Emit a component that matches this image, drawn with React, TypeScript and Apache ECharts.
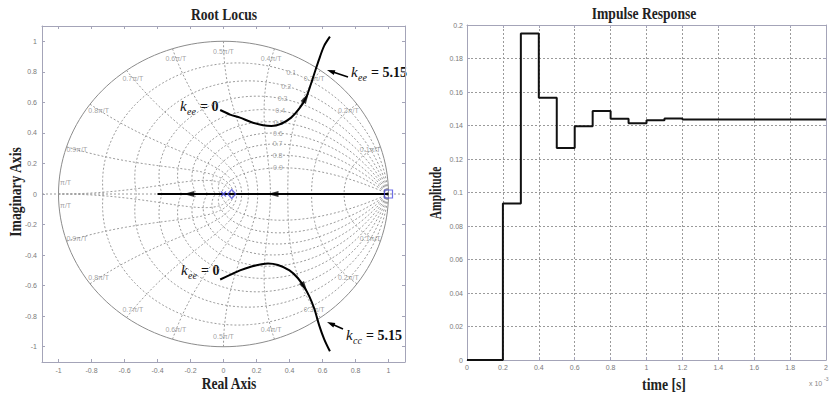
import React, { useEffect, useRef } from 'react';
import * as echarts from 'echarts';

// ---------- data ----------
const zetaValues = [0.1, 0.2, 0.3, 0.4, 0.5, 0.6, 0.7, 0.8, 0.9];
const wnFractions = [0.1, 0.2, 0.3, 0.4, 0.5, 0.6, 0.7, 0.8, 0.9, 1.0];
const wnLabels = ['0.1π/T', '0.2π/T', '0.3π/T', '0.4π/T', '0.5π/T', '0.6π/T', '0.7π/T', '0.8π/T', '0.9π/T', 'π/T'];

const upperLocusX = [-0.02, 0.04, 0.10, 0.17, 0.24, 0.29, 0.35, 0.41, 0.46, 0.50, 0.53, 0.56, 0.585, 0.61, 0.645];
const upperLocusY = [0.55, 0.52, 0.50, 0.47, 0.45, 0.445, 0.46, 0.50, 0.56, 0.63, 0.72, 0.82, 0.90, 0.97, 1.03];
const lowerLocusX = [-0.02, 0.04, 0.10, 0.17, 0.23, 0.27, 0.33, 0.40, 0.45, 0.49, 0.52, 0.55, 0.58, 0.61, 0.645];
const lowerLocusY = [-0.56, -0.53, -0.50, -0.475, -0.46, -0.455, -0.465, -0.50, -0.55, -0.61, -0.67, -0.75, -0.86, -0.95, -1.03];
const realLocusX = [1.0, -0.4];
const realArrowX = [0.3, -0.21];
const poleSquareX = 1.0;
const zeroDiamondX = 0.05;
const poleCrossX = 0.0;

const impulseT = [0, 0.1, 0.2, 0.3, 0.4, 0.5, 0.6, 0.7, 0.8, 0.9, 1.0, 1.1, 1.2, 1.3, 1.4, 1.5, 1.6, 1.7, 1.8, 1.9, 2.0];
const impulseAmp = [0, 0, 0.0935, 0.195, 0.1565, 0.1265, 0.1395, 0.1487, 0.1440, 0.1413, 0.1432, 0.1442, 0.1436, 0.1436, 0.1436, 0.1436, 0.1436, 0.1436, 0.1436, 0.1436, 0.1436];

// ---------- styles ----------
const serif = '"Liberation Serif", "Times New Roman", serif';
const sans = '"Liberation Sans", Arial, sans-serif';
const boxColor = '#a4a4b8';
const gridColor = '#9a9a9a';
const tickLabelColor = '#7a7a7a';
const N = 80;

function zetaCurve(z: number, sign: number) {
  const m = z / Math.sqrt(1 - z * z);
  const pts: number[][] = [];
  for (let i = 0; i <= N; i++) {
    const th = (Math.PI * i) / N;
    const r = Math.exp(-m * th);
    pts.push([r * Math.cos(th), sign * r * Math.sin(th)]);
  }
  return pts;
}
function wnCurve(f: number, sign: number) {
  const w = f * Math.PI;
  const pts: number[][] = [];
  for (let i = 0; i <= N; i++) {
    const zt = i / N;
    const r = Math.exp(-zt * w);
    const th = w * Math.sqrt(1 - zt * zt);
    pts.push([r * Math.cos(th), sign * r * Math.sin(th)]);
  }
  return pts;
}

const leftFmt = (v: number) => {
  const r = Math.round(v * 10);
  if (Math.abs(v * 10 - r) > 1e-6 || r % 2 !== 0) return '';
  const n = r / 10;
  return n === 0 ? '0' : String(n);
};

function arrow(x1: number, y1: number, x2: number, y2: number) {
  const dx = x2 - x1, dy = y2 - y1;
  const len = Math.hypot(dx, dy);
  const ux = dx / len, uy = dy / len;
  const px = -uy, py = ux;
  const L = 8, Wd = 5;
  return [
    { type: 'line', shape: { x1, y1, x2: x2 - ux * 4, y2: y2 - uy * 4 }, style: { stroke: '#000', lineWidth: 1.6 } },
    {
      type: 'polygon',
      shape: { points: [[x2, y2], [x2 - ux * L + px * Wd / 2, y2 - uy * L + py * Wd / 2], [x2 - ux * L - px * Wd / 2, y2 - uy * L - py * Wd / 2]] },
      style: { fill: '#000' },
    },
  ];
}

function kLabel(x: number, y: number, sub: string, rest: string) {
  return [
    { type: 'text', x, y, style: { text: 'k', fontFamily: serif, fontStyle: 'italic', fontSize: 15, fill: '#111', align: 'left', verticalAlign: 'middle' } },
    { type: 'text', x: x + 7, y: y + 5, style: { text: sub, fontFamily: serif, fontStyle: 'italic', fontSize: 10, fill: '#111', align: 'left', verticalAlign: 'middle' } },
    { type: 'text', x: x + 20, y, style: { text: rest, fontFamily: serif, fontWeight: 'bold', fontSize: 14, fill: '#111', align: 'left', verticalAlign: 'middle' } },
  ];
}

export default function App() {
  const ref = useRef<HTMLDivElement>(null);
  useEffect(() => {
    if (!ref.current) return;
    const chart = echarts.init(ref.current, undefined, { renderer: 'svg' });

    const gridSeries: any[] = [];
    const dotted = { color: gridColor, width: 1, type: [2, 2] as any };
    zetaValues.forEach((z) => {
      [1, -1].forEach((s) => {
        gridSeries.push({ type: 'line', xAxisIndex: 0, yAxisIndex: 0, data: zetaCurve(z, s), symbol: 'none', lineStyle: dotted, silent: true, z: 1 });
      });
    });
    wnFractions.forEach((f) => {
      [1, -1].forEach((s) => {
        gridSeries.push({ type: 'line', xAxisIndex: 0, yAxisIndex: 0, data: wnCurve(f, s), symbol: 'none', lineStyle: dotted, silent: true, z: 1 });
      });
    });
    [1, -1].forEach((s) => {
      gridSeries.push({ type: 'line', xAxisIndex: 0, yAxisIndex: 0, data: zetaCurve(0, s), symbol: 'none', lineStyle: { color: '#8c8c8c', width: 1 }, silent: true, z: 1 });
    });
    gridSeries.push({ type: 'line', xAxisIndex: 0, yAxisIndex: 0, data: [[-1.1, 0], [1.1, 0]], symbol: 'none', lineStyle: dotted, silent: true, z: 1 });

    const labelSeries = {
      type: 'scatter', xAxisIndex: 0, yAxisIndex: 0, symbolSize: 1, silent: true, z: 2,
      itemStyle: { color: 'rgba(0,0,0,0)' },
      label: { show: true, position: 'inside', formatter: '{b}', fontSize: 7, fontFamily: sans, color: '#8a8a8a', textBorderWidth: 0 },
      data: [
        ...zetaValues.map((z) => {
          const w = 0.35 * Math.PI;
          const r = Math.exp(-z * w);
          const th = w * Math.sqrt(1 - z * z);
          return { name: String(z), value: [r * Math.cos(th), r * Math.sin(th)] };
        }),
        ...wnFractions.flatMap((f, i) => {
          const a = Math.min(f, 0.975) * Math.PI;
          const r = f >= 1 ? 0.96 : 0.935;
          return [
            { name: wnLabels[i], value: [r * Math.cos(a), r * Math.sin(a)] },
            { name: wnLabels[i], value: [r * Math.cos(a), -r * Math.sin(a)] },
          ];
        }),
      ],
    };

    const locus = (xs: number[], ys: number[]) => ({
      type: 'line', xAxisIndex: 0, yAxisIndex: 0, data: xs.map((x, i) => [x, ys[i]]), symbol: 'none', smooth: 0.3,
      lineStyle: { color: '#000', width: 2 }, silent: true, z: 5,
    });

    const axisLine = { show: true, onZero: false, lineStyle: { color: boxColor, width: 1 } };
    const axisTick = { show: true, inside: true, length: 3, lineStyle: { color: boxColor } };
    const tickLbl = { fontSize: 7, fontFamily: sans, color: tickLabelColor };

    chart.setOption({
      animation: false,
      backgroundColor: '#fff',
      grid: [
        { left: 42, top: 26, width: 363, height: 336 },
        { left: 467, top: 25, width: 363, height: 335 },
      ],
      xAxis: [
        { gridIndex: 0, type: 'value', min: -1.1, max: 1.1, splitNumber: 11, position: 'bottom', axisLine, axisTick, splitLine: { show: false },
          axisLabel: { ...tickLbl, margin: 5, formatter: leftFmt, showMinLabel: true, showMaxLabel: true } },
        { gridIndex: 0, type: 'value', min: -1.1, max: 1.1, splitNumber: 11, position: 'top', axisLine, axisTick, splitLine: { show: false }, axisLabel: { show: false } },
        { gridIndex: 1, type: 'value', min: 0, max: 2, interval: 0.2, position: 'bottom', axisLine, axisTick,
          splitLine: { show: true, lineStyle: dotted }, axisLabel: { ...tickLbl, margin: 4 } },
        { gridIndex: 1, type: 'value', min: 0, max: 2, interval: 0.2, position: 'top', axisLine, axisTick, splitLine: { show: false }, axisLabel: { show: false } },
      ],
      yAxis: [
        { gridIndex: 0, type: 'value', min: -1.1, max: 1.1, splitNumber: 11, position: 'left', axisLine, axisTick, splitLine: { show: false },
          axisLabel: { ...tickLbl, margin: 5, formatter: leftFmt } },
        { gridIndex: 0, type: 'value', min: -1.1, max: 1.1, splitNumber: 11, position: 'right', axisLine, axisTick, splitLine: { show: false }, axisLabel: { show: false } },
        { gridIndex: 1, type: 'value', min: 0, max: 0.2, interval: 0.02, position: 'left', axisLine, axisTick,
          splitLine: { show: true, lineStyle: dotted }, axisLabel: { ...tickLbl, margin: 4 } },
        { gridIndex: 1, type: 'value', min: 0, max: 0.2, interval: 0.02, position: 'right', axisLine, axisTick, splitLine: { show: false }, axisLabel: { show: false } },
      ],
      series: [
        ...gridSeries,
        labelSeries,
        locus(upperLocusX, upperLocusY),
        locus(lowerLocusX, lowerLocusY),
        { type: 'line', xAxisIndex: 0, yAxisIndex: 0, data: realLocusX.map((x) => [x, 0]), symbol: 'none', lineStyle: { color: '#000', width: 2 }, silent: true, z: 5 },
        {
          type: 'scatter', xAxisIndex: 0, yAxisIndex: 0, symbol: 'triangle', symbolSize: [6, 11], silent: true, z: 6,
          itemStyle: { color: '#000' },
          data: [
            ...realArrowX.map((x) => ({ value: [x, 0], symbolRotate: 90 })),
            { value: [upperLocusX[9], upperLocusY[9]], symbolRotate: -30 },
            { value: [lowerLocusX[9], lowerLocusY[9]], symbolRotate: 212 },
          ],
        },
        {
          type: 'scatter', xAxisIndex: 0, yAxisIndex: 0, silent: true, z: 7,
          itemStyle: { color: 'rgba(0,0,0,0)', borderColor: '#4a4ae0', borderWidth: 1.2 },
          data: [
            { value: [poleSquareX, 0], symbol: 'rect', symbolSize: 8 },
            { value: [zeroDiamondX, 0], symbol: 'diamond', symbolSize: [8, 9] },
            { value: [poleCrossX, 0], symbol: 'path://M0,0L10,10M10,0L0,10', symbolSize: 5 },
          ],
        },
        {
          type: 'line', xAxisIndex: 2, yAxisIndex: 2, step: 'end', symbol: 'none', silent: true, z: 5,
          data: impulseT.map((t, i) => [t, impulseAmp[i]]),
          lineStyle: { color: '#111', width: 2 },
        },
      ],
      graphic: [
        { type: 'text', x: 224, y: 15, scaleX: 0.85, style: { text: 'Root Locus', fontFamily: serif, fontWeight: 'bold', fontSize: 16, fill: '#222', align: 'center', verticalAlign: 'middle' } },
        { type: 'text', x: 644, y: 14, scaleX: 0.85, style: { text: 'Impulse Response', fontFamily: serif, fontWeight: 'bold', fontSize: 16, fill: '#222', align: 'center', verticalAlign: 'middle' } },
        { type: 'text', x: 229, y: 384, scaleX: 0.85, style: { text: 'Real Axis', fontFamily: serif, fontWeight: 'bold', fontSize: 16, fill: '#222', align: 'center', verticalAlign: 'middle' } },
        { type: 'text', x: 664, y: 385, scaleX: 0.86, style: { text: 'time [s]', fontFamily: serif, fontWeight: 'bold', fontSize: 16, fill: '#222', align: 'center', verticalAlign: 'middle' } },
        { type: 'text', x: 16, y: 192, rotation: Math.PI / 2, scaleX: 0.85, style: { text: 'Imaginary Axis', fontFamily: serif, fontWeight: 'bold', fontSize: 16, fill: '#222', align: 'center', verticalAlign: 'middle' } },
        { type: 'text', x: 436, y: 193, rotation: Math.PI / 2, scaleX: 0.72, style: { text: 'Amplitude', fontFamily: serif, fontWeight: 'bold', fontSize: 16, fill: '#222', align: 'center', verticalAlign: 'middle' } },
        { type: 'text', x: 809, y: 383, style: { text: 'x 10', fontFamily: sans, fontSize: 7, fill: '#888', align: 'left', verticalAlign: 'middle' } },
        { type: 'text', x: 824, y: 379, style: { text: '-3', fontFamily: sans, fontSize: 5, fill: '#888', align: 'left', verticalAlign: 'middle' } },
        ...kLabel(180, 106, 'ee', '= 0'),
        ...kLabel(351, 72, 'ee', '= 5.15'),
        ...kLabel(181, 270, 'ee', '= 0'),
        ...kLabel(346, 335, 'cc', '= 5.15'),
        ...arrow(348, 77, 327, 70),
        ...arrow(343, 329, 327, 322),
      ],
    });
    return () => chart.dispose();
  }, []);
  return <div ref={ref} style={{ position: 'fixed', left: 0, top: 0, width: 831, height: 398, background: '#fff' }} />;
}
